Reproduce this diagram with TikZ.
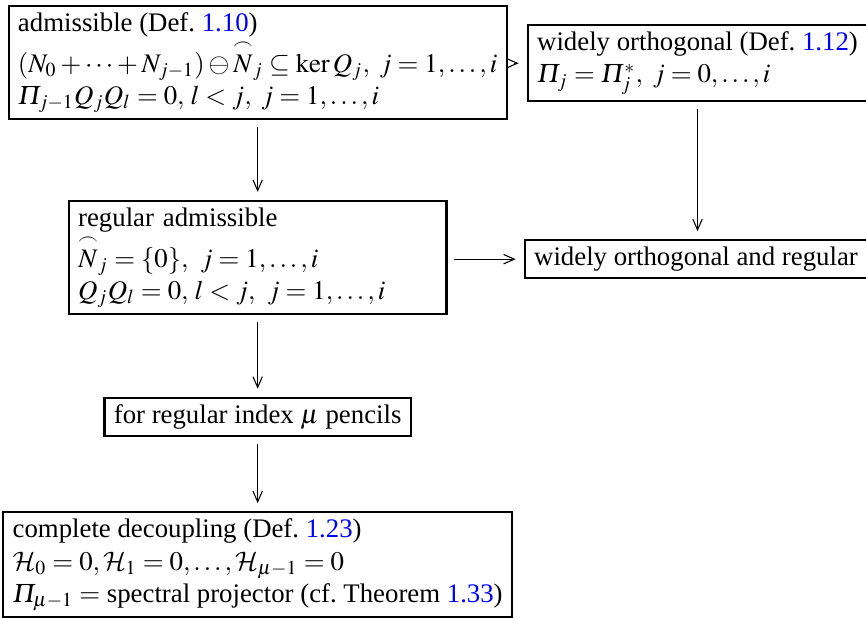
\documentclass[tikz,border=0pt]{standalone}
\usepackage{amsmath}
\usepackage{mathptmx}
\usepackage{fontspec}
\setmainfont{Liberation Serif}
\usepackage{xcolor}
\usetikzlibrary{arrows.meta}
\DeclareMathSymbol{\Pit}{\mathalpha}{letters}{"05}
\DeclareMathAlphabet{\mathcal}{OMS}{cmsy}{m}{n}
\newcommand{\hatN}{\overset{\frown}{N}}
\newcommand{\dref}[1]{\textcolor{blue}{#1}}
\begin{document}
\begin{tikzpicture}[
	box/.style={draw, line width=0.8pt, align=left, inner xsep=3.5pt, inner ysep=2.5pt,
		font=\fontsize{10}{12}\selectfont},
	arr/.style={-{Straight Barb[length=4pt,width=3.5pt]}, line width=0.4pt,
		shorten <=2.5pt, shorten >=3pt}]
	\useasboundingbox (0,0) rectangle (11.36,-8.12);
	\node[box] (adm) at (3.38,-0.82) {admissible (Def.~\dref{1.10})\\
		$(N_0+\cdots+N_{j-1})\ominus\hatN_j\subseteq\ker Q_j,\ j=1,\ldots,i$\\
		$\Pit_{j-1}Q_jQ_l=0,\,l<j,\ j=1,\ldots,i$};
	\node[box] (wo) at (9.15,-0.83) {widely orthogonal (Def.~\dref{1.12})\\
		$\Pit_j=\Pit_j^*,\ j=0,\ldots,i$};
	\node[box, text width=134pt] (radm) at (3.38,-3.38) {regular admissible\\
		$\hatN_j=\{0\},\ j=1,\ldots,i$\\
		$Q_jQ_l=0,\,l<j,\ j=1,\ldots,i$};
	\node[box] (wor) at (9.13,-3.40) {widely orthogonal and regular};
	\node[box] (pen) at (3.38,-5.47) {for regular index $\mu$ pencils};
	\node[box] (dec) at (3.38,-7.41) {complete decoupling (Def.~\dref{1.23})\\
		$\mathcal{H}_0=0,\mathcal{H}_1=0,\ldots,\mathcal{H}_{\mu-1}=0$\\
		$\Pit_{\mu-1}=$ spectral projector (cf.~Theorem~\dref{1.33})};
	\draw[arr] (adm.east |- wo.west) -- (wo.west);
	\draw[arr] (adm) -- (radm);
	\draw[arr] (wo.south) -- (wo.south |- wor.north);
	\draw[arr] (radm.east |- wor.west) -- (wor.west);
	\draw[arr] (radm) -- (pen);
	\draw[arr] (pen) -- (dec);
\end{tikzpicture}
\end{document}
